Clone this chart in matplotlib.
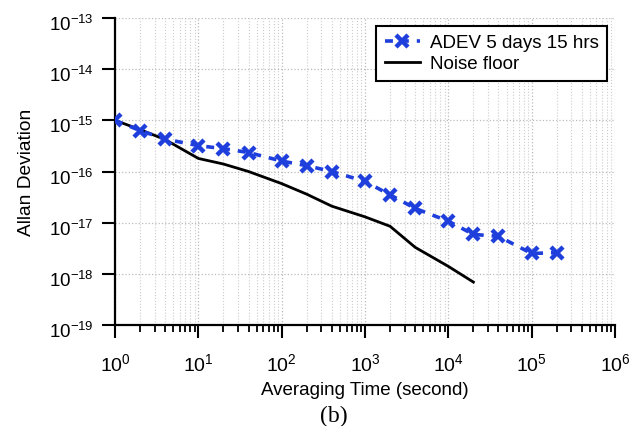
"""Allan deviation vs averaging time, log-log."""
import matplotlib
matplotlib.use("Agg")
import matplotlib.pyplot as plt
from matplotlib.ticker import LogLocator, NullLocator
from matplotlib.transforms import ScaledTranslation

plt.rcParams["font.family"] = ["Liberation Sans", "DejaVu Sans"]
plt.rcParams["mathtext.fontset"] = "custom"
plt.rcParams["mathtext.rm"] = "Liberation Sans"

# ADEV measurement (5 days 15 hrs)
tau_adev = [1, 2, 4, 10, 20, 40, 100, 200, 400, 1e3, 2e3, 4e3, 1e4, 2e4, 4e4, 1e5, 2e5]
adev = [1.0e-15, 6.3e-16, 4.3e-16, 3.2e-16, 2.8e-16, 2.35e-16, 1.6e-16, 1.3e-16,
        1.0e-16, 6.4e-17, 3.5e-17, 1.9e-17, 1.07e-17, 5.9e-18, 5.4e-18, 2.5e-18, 2.6e-18]

# Noise floor
tau_floor = [1, 2, 4, 10, 20, 40, 100, 200, 400, 1e3, 2e3, 4e3, 1e4, 2e4]
floor = [1.0e-15, 6.6e-16, 4.2e-16, 1.8e-16, 1.4e-16, 1.0e-16, 5.8e-17, 3.6e-17,
         2.1e-17, 1.3e-17, 8.5e-18, 3.3e-18, 1.4e-18, 6.9e-19]

BLUE = "#1e3fdc"

fig = plt.figure(figsize=(6.31, 4.27), dpi=100)
ax = fig.add_axes([0.1823, 0.2365, 0.7923, 0.7190])

ax.plot(tau_adev, adev, linestyle=(0, (2.2, 2.2)), color=BLUE, linewidth=2.6,
        marker="x", markersize=9, markeredgewidth=3.2,
        label="ADEV 5 days 15 hrs", zorder=3)
ax.plot(tau_floor, floor, color="black", linewidth=2, label="Noise floor", zorder=2)

ax.set_xscale("log")
ax.set_yscale("log")
ax.set_xlim(1, 1e6)
ax.set_ylim(1e-19, 1e-13)

ax.xaxis.set_major_locator(LogLocator(base=10, numticks=10))
ax.xaxis.set_minor_locator(LogLocator(base=10, subs=range(2, 10), numticks=10))
ax.yaxis.set_major_locator(LogLocator(base=10, numticks=10))
ax.yaxis.set_minor_locator(NullLocator())

ax.grid(which="major", axis="both", linestyle=":", color="#bbbbbb", linewidth=0.9)
ax.grid(which="minor", axis="x", linestyle=":", color="#cccccc", linewidth=0.8)

for side in ("top", "right"):
    ax.spines[side].set_visible(False)
for side in ("left", "bottom"):
    ax.spines[side].set_linewidth(1.6)

ax.tick_params(which="major", direction="out", length=9.5, width=1.5, labelsize=14)
ax.tick_params(which="minor", direction="out", length=5, width=1.3)
ax.tick_params(axis="x", which="major", pad=10)
ax.tick_params(axis="y", which="major", pad=6, labelsize=13.5)

ax.set_xlabel("Averaging Time (second)", fontsize=13.5, labelpad=5)
ax.set_ylabel("Allan Deviation", fontsize=13.8, labelpad=10)

leg = ax.legend(loc="upper right", bbox_to_anchor=(0.984, 0.975), borderaxespad=0,
                fontsize=13.5, fancybox=False, framealpha=1, edgecolor="black",
                handlelength=1.9, borderpad=0.45, labelspacing=0.2, handletextpad=0.5)
leg.get_frame().set_linewidth(1.5)

fig.text(0.529, 0.012, "(b)", fontsize=17, family=["Liberation Serif"],
         ha="center", va="baseline")

# y labels sit a little below their ticks in the original
fig.canvas.draw()
shift = ScaledTranslation(0, -0.04, fig.dpi_scale_trans)
for tick in ax.yaxis.get_major_ticks():
    tick.label1.set_transform(tick.label1.get_transform() + shift)

fig.savefig("out.png", dpi=100)
